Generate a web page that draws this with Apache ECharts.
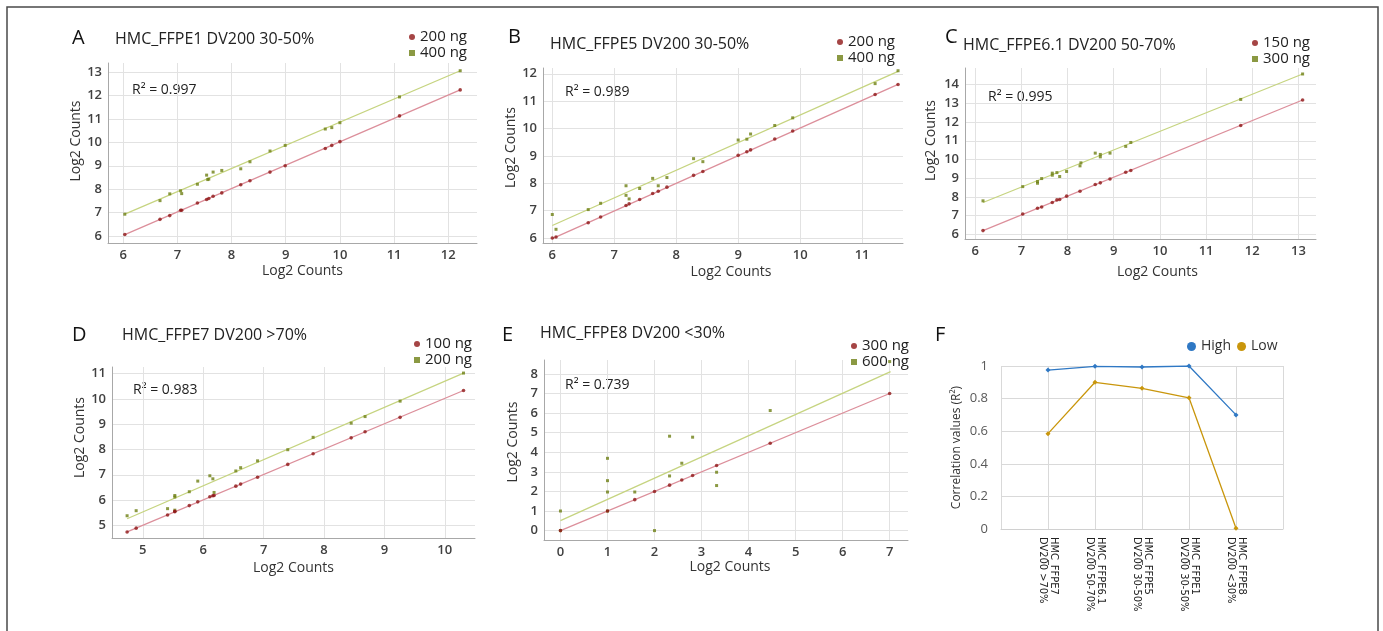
<!DOCTYPE html>
<html><head><meta charset="utf-8">
<script src="https://cdn.jsdelivr.net/npm/echarts@6/dist/echarts.min.js"></script>
<style>html,body{margin:0;padding:0;background:#fff}#c{width:1383px;height:631px}</style>
</head><body><div id="c"></div>
<script>
// ---------- data ----------
const a200 = [[6.03,6.06],[6.68,6.71],[6.86,6.87],[7.06,7.10],[7.08,7.10],[7.37,7.41],[7.54,7.56],[7.58,7.60],[7.66,7.70],[7.82,7.84],[8.17,8.19],[8.34,8.36],[8.71,8.73],[8.99,9.00],[9.73,9.74],[9.85,9.87],[10.00,10.03],[11.10,11.13],[12.22,12.24]];
const a400 = [[6.03,6.93],[6.68,7.51],[6.86,7.80],[7.06,7.93],[7.08,7.81],[7.37,8.21],[7.54,8.60],[7.56,8.41],[7.58,8.43],[7.66,8.73],[7.82,8.80],[8.17,8.87],[8.34,9.17],[8.71,9.63],[8.99,9.87],[9.73,10.57],[9.85,10.63],[10.00,10.84],[11.10,11.94],[12.22,13.06]];
const aFit200 = [[6.03,6.06],[12.22,12.24]];
const aFit400 = [[6.03,6.93],[12.22,13.06]];

const b200 = [[6.00,6.00],[6.06,6.04],[6.58,6.56],[6.78,6.77],[7.19,7.19],[7.24,7.25],[7.41,7.41],[7.62,7.63],[7.71,7.71],[7.85,7.86],[8.28,8.29],[8.43,8.43],[9.00,9.02],[9.14,9.15],[9.20,9.22],[9.59,9.62],[9.88,9.91],[11.21,11.24],[11.58,11.61]];
const b400 = [[6.00,6.86],[6.06,6.32],[6.58,7.04],[6.78,7.27],[7.19,7.91],[7.19,7.56],[7.24,7.43],[7.41,7.81],[7.62,8.18],[7.71,7.91],[7.85,8.21],[8.28,8.90],[8.43,8.79],[9.00,9.58],[9.14,9.61],[9.20,9.80],[9.59,10.11],[9.88,10.39],[11.21,11.64],[11.58,12.11]];
const bFit200 = [[6.00,5.98],[11.58,11.61]];
const bFit400 = [[6.00,6.46],[11.58,12.09]];

const c150 = [[6.17,6.20],[7.03,7.09],[7.35,7.39],[7.44,7.46],[7.67,7.70],[7.77,7.84],[7.83,7.86],[7.98,8.04],[8.27,8.30],[8.60,8.66],[8.71,8.75],[8.92,8.96],[9.26,9.32],[9.37,9.41],[11.75,11.82],[13.09,13.18]];
const c300 = [[6.17,7.79],[7.03,8.55],[7.35,8.82],[7.35,8.73],[7.44,8.98],[7.67,9.27],[7.67,9.16],[7.83,9.09],[7.77,9.30],[7.98,9.36],[8.27,9.66],[8.29,9.82],[8.60,10.34],[8.71,10.27],[8.71,10.14],[8.92,10.34],[9.26,10.70],[9.37,10.91],[11.75,13.21],[13.09,14.57]];
const cFit150 = [[6.17,6.20],[13.09,13.18]];
const cFit300 = [[6.17,7.70],[13.09,14.57]];

const d100 = [[4.74,4.74],[4.89,4.89],[5.41,5.41],[5.53,5.54],[5.53,5.56],[5.77,5.78],[5.91,5.93],[6.11,6.13],[6.16,6.17],[6.18,6.18],[6.54,6.55],[6.62,6.63],[6.90,6.90],[7.40,7.41],[7.82,7.83],[8.45,8.46],[8.68,8.70],[9.26,9.27],[10.31,10.33]];
const d200 = [[4.74,5.38],[4.89,5.58],[5.41,5.66],[5.53,6.18],[5.53,6.12],[5.53,5.60],[5.77,6.33],[5.91,6.75],[6.11,6.96],[6.16,6.84],[6.18,6.30],[6.54,7.15],[6.62,7.28],[6.90,7.55],[7.40,7.99],[7.82,8.48],[8.45,9.04],[8.68,9.30],[9.26,9.91],[10.31,11.02]];
const dFit100 = [[4.74,4.74],[10.31,10.33]];
const dFit200 = [[4.74,5.26],[10.31,11.02]];

const e300 = [[0,0],[1,1],[1.58,1.58],[2,2],[2.32,2.32],[2.58,2.58],[2.81,2.81],[3.32,3.32],[4.46,4.46],[7,7]];
const e600 = [[0,0],[0,1],[1,3.69],[1,2.55],[1,1.97],[1,1],[1.58,1.97],[2,0],[2.32,4.82],[2.32,2.79],[2.58,3.44],[2.81,4.77],[3.32,2.98],[3.32,2.30],[4.46,6.13],[7,8.63]];
const eFit300 = [[0,0],[7,7]];
const eFit600 = [[0,0.51],[7.02,8.12]];

const xTicksA = [6,7,8,9,10,11,12];
const yTicksA = [6,7,8,9,10,11,12,13];
const xTicksB = [6,7,8,9,10,11];
const yTicksB = [6,7,8,9,10,11,12];
const xTicksC = [6,7,8,9,10,11,12,13];
const yTicksC = [6,7,8,9,10,11,12,13,14];
const xTicksD = [5,6,7,8,9,10];
const yTicksD = [5,6,7,8,9,10,11];
const xTicksE = [0,1,2,3,4,5,6,7];
const yTicksE = [0,1,2,3,4,5,6,7,8];

const fCats = ['', 'HMC_FFPE7\nDV200 >70%', 'HMC_FFPE6.1\nDV200 50-70%', 'HMC_FFPE5\nDV200 30-50%', 'HMC_FFPE1\nDV200 30-50%', 'HMC_FFPE8\nDV200 <30%', ''];
const fHigh = ['-', 0.975, 0.998, 0.994, 1.0, 0.70, '-'];
const fLow  = ['-', 0.585, 0.90, 0.863, 0.805, 0.005, '-'];
const fYTicks = [0, 0.2, 0.4, 0.6, 0.8, 1];

// ---------- panels ----------
const panels = [
  {letter:'A', title:'HMC_FFPE1 DV200 30-50%', r2:'R\u00b2 = 0.997', names:['200 ng','400 ng'], s1:a200, s2:a400, f1:aFit200, f2:aFit400, xt:xTicksA, yt:yTicksA},
  {letter:'B', title:'HMC_FFPE5 DV200 30-50%', r2:'R\u00b2 = 0.989', names:['200 ng','400 ng'], s1:b200, s2:b400, f1:bFit200, f2:bFit400, xt:xTicksB, yt:yTicksB},
  {letter:'C', title:'HMC_FFPE6.1 DV200 50-70%', r2:'R\u00b2 = 0.995', names:['150 ng','300 ng'], s1:c150, s2:c300, f1:cFit150, f2:cFit300, xt:xTicksC, yt:yTicksC},
  {letter:'D', title:'HMC_FFPE7 DV200 >70%', r2:'R\u00b2 = 0.983', names:['100 ng','200 ng'], s1:d100, s2:d200, f1:dFit100, f2:dFit200, xt:xTicksD, yt:yTicksD},
  {letter:'E', title:'HMC_FFPE8 DV200 <30%', r2:'R\u00b2 = 0.739', names:['300 ng','600 ng'], s1:e300, s2:e600, f1:eFit300, f2:eFit600, xt:xTicksE, yt:yTicksE}
];
// layout (pixels) per panel
const layout = [
  {grid:[108,63,369,180], xr:[5.72,12.53], yr:[5.70,13.39], letter:[72,38], title:[115,39], r2:[132,90], leg:[409,29.5], xng:21, yng:23, xsh:10, ysh:12},
  {grid:[543,68,360,175], xr:[5.85,11.66], yr:[5.82,12.21], letter:[508,37], title:[550,44], r2:[565,92], leg:[837,34.5], xng:22, yng:25, xsh:8, ysh:8},
  {grid:[965,68,351,171], xr:[5.78,13.38], yr:[5.75,14.89], letter:[945,37], title:[963,45], r2:[988,97], leg:[1252,35.5], xng:26, yng:27, xsh:17, ysh:13},
  {grid:[112,367,363,171], xr:[4.49,10.50], yr:[4.50,11.26], letter:[72,335], title:[122,335], r2:[133,390], leg:[414,336.5], xng:23, yng:22, xsh:0, ysh:15},
  {grid:[544,360,364,180], xr:[-0.35,7.39], yr:[-0.48,8.71], letter:[502,335], title:[540,333], r2:[565,385], leg:[851,338.5], xng:19, yng:24, xsh:4, ysh:8}
];

const RED = '#8e1616', GREEN = '#6e7f14', REDLINE = '#dc8f9b', GREENLINE = '#c6d480';
const FONT = '"Open Sans", "Noto Sans", sans-serif';

const grids = [], xAxes = [], yAxes = [], series = [], legends = [], graphics = [];

graphics.push({type:'rect', shape:{x:7, y:7, width:1371, height:640}, style:{fill:'none', stroke:'#4a4a4a', lineWidth:1.5}, silent:true});

panels.forEach((p, i) => {
  const L = layout[i];
  const n1 = p.letter + '|' + p.names[0], n2 = p.letter + '|' + p.names[1];
  grids.push({left:L.grid[0], top:L.grid[1], width:L.grid[2], height:L.grid[3], containLabel:false});
  const axisCommon = {
    type:'value',
    axisLine:{show:true, onZero:false, lineStyle:{color:'#a8a8a8', width:1}},
    splitLine:{show:true, lineStyle:{color:'#e2e2e2', width:1}},
    nameLocation:'middle'
  };
  xAxes.push(Object.assign({}, axisCommon, {
    gridIndex:i, min:L.xr[0], max:L.xr[1], name:'Log2 Counts', nameGap:L.xng,
    nameTextStyle:{fontFamily:FONT, fontSize:14, color:'#333', padding:[0,0,0,2*L.xsh]},
    axisTick:{show:false, customValues:p.xt},
    axisLabel:{customValues:p.xt, fontFamily:FONT, fontSize:13, fontWeight:600, color:'#404040', margin:6}
  }));
  yAxes.push(Object.assign({}, axisCommon, {
    gridIndex:i, min:L.yr[0], max:L.yr[1], name:'Log2 Counts', nameGap:L.yng,
    nameTextStyle:{fontFamily:FONT, fontSize:14, color:'#333', padding:[0,0,0,2*L.ysh]},
    axisTick:{show:false, customValues:p.yt},
    axisLabel:{customValues:p.yt, fontFamily:FONT, fontSize:13, fontWeight:600, color:'#404040', margin:6}
  }));
  series.push({type:'line', name:'fit-'+i+'-1', xAxisIndex:i, yAxisIndex:i, data:p.f1, symbol:'none', silent:true, z:2, lineStyle:{color:REDLINE, width:1.3}});
  series.push({type:'line', name:'fit-'+i+'-2', xAxisIndex:i, yAxisIndex:i, data:p.f2, symbol:'none', silent:true, z:2, lineStyle:{color:GREENLINE, width:1.3}});
  series.push({type:'scatter', name:n2, xAxisIndex:i, yAxisIndex:i, data:p.s2, symbol:'rect', symbolSize:3, z:3, itemStyle:{color:GREEN}});
  series.push({type:'scatter', name:n1, xAxisIndex:i, yAxisIndex:i, data:p.s1, symbol:'circle', symbolSize:3.6, z:4, itemStyle:{color:RED}});
  legends.push({
    data:[{name:n1, icon:'circle'}, {name:n2, icon:'rect'}],
    formatter: name => name.split('|')[1],
    orient:'vertical', left:L.leg[0], top:L.leg[1], padding:0, itemGap:1,
    itemWidth:6, itemHeight:6, itemTextGap:7, selectedMode:false,
    textStyle:{fontFamily:FONT, fontSize:15, color:'#222'}
  });
  graphics.push({type:'text', x:L.letter[0], y:L.letter[1], silent:true,
    style:{text:p.letter, font:'20px '+FONT, fill:'#111', textVerticalAlign:'middle'}});
  graphics.push({type:'text', x:L.title[0], y:L.title[1], silent:true,
    style:{text:p.title, font:'16px '+FONT, fill:'#222', textVerticalAlign:'middle'}});
  graphics.push({type:'text', x:L.r2[0], y:L.r2[1], silent:true,
    style:{text:p.r2, font:'14px '+FONT, fill:'#222', textVerticalAlign:'middle'}});
});

// ---------- panel F ----------
const fi = panels.length;
grids.push({left:1001, top:366, width:282, height:163});
xAxes.push({type:'category', gridIndex:fi, data:fCats, boundaryGap:false,
  axisLine:{show:true, lineStyle:{color:'#d0d0d0'}}, axisTick:{show:false},
  splitLine:{show:true, lineStyle:{color:'#d9d9d9'}},
  axisLabel:{interval:0, rotate:-90, margin:8, fontFamily:'"DejaVu Sans Condensed", "Liberation Sans Narrow", "Noto Sans", sans-serif', fontSize:11, color:'#222', lineHeight:11}
});
yAxes.push({type:'value', gridIndex:fi, min:0, max:1, interval:0.2,
  axisLine:{show:false}, axisTick:{show:false},
  splitLine:{show:true, lineStyle:{color:'#d9d9d9'}},
  axisLabel:{customValues:fYTicks, fontFamily:FONT, fontSize:13, color:'#595959', margin:13},
  name:'Correlation values (R\u00b2)', nameLocation:'middle', nameGap:38,
  nameTextStyle:{fontFamily:FONT, fontSize:12, color:'#333'}
});
series.push({type:'line', name:'High', xAxisIndex:fi, yAxisIndex:fi, data:fHigh, symbol:'diamond', symbolSize:5, z:3,
  itemStyle:{color:'#2f78c4'}, lineStyle:{color:'#2f78c4', width:1.3}});
series.push({type:'line', name:'Low', xAxisIndex:fi, yAxisIndex:fi, data:fLow, symbol:'diamond', symbolSize:5, z:3,
  itemStyle:{color:'#c9960c'}, lineStyle:{color:'#c9960c', width:1.3}});
legends.push({data:['High','Low'], orient:'horizontal', left:1187, top:339.5, padding:0,
  itemWidth:9, itemHeight:9, itemGap:6, itemTextGap:4, icon:'circle', selectedMode:false,
  textStyle:{fontFamily:FONT, fontSize:14, color:'#333'}});
graphics.push({type:'text', x:935, y:335, silent:true, style:{text:'F', font:'20px '+FONT, fill:'#111', textVerticalAlign:'middle'}});

const chart = echarts.init(document.getElementById('c'), null, {renderer:'canvas'});
chart.setOption({
  animation:false,
  backgroundColor:'#fff',
  grid:grids, xAxis:xAxes, yAxis:yAxes, series:series, legend:legends, graphic:graphics
});
</script></body></html>
